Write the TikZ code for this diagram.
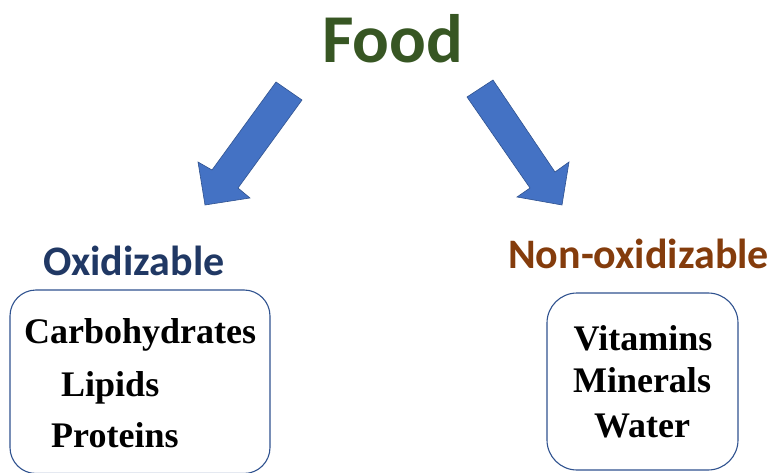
\documentclass[tikz,border=0pt]{standalone}
\usepackage{fontspec}
\setmainfont{Liberation Serif}
\newfontfamily\headfont{Carlito}
\definecolor{foodgreen}{HTML}{375623}
\definecolor{oxblue}{HTML}{203864}
\definecolor{nonoxbrown}{HTML}{843C0C}
\definecolor{arrowfill}{HTML}{4472C4}
\definecolor{arrowline}{HTML}{2F528F}
\definecolor{boxline}{HTML}{2F528F}
\tikzset{
  bigarrow/.style={fill=arrowfill, draw=arrowline, line width=0.6pt, line join=miter},
  groupbox/.style={draw=boxline, line width=1.1pt, rounded corners=26pt},
  title/.style={inner sep=0pt, anchor=base west, font=\headfont\bfseries\fontsize{68.5}{68.5}\selectfont, text=foodgreen},
  heading/.style={inner sep=0pt, anchor=base west, font=\headfont\bfseries\fontsize{42}{42}\selectfont},
  item/.style={inner sep=0pt, font=\bfseries\fontsize{36}{36}\selectfont, text=black}
}
\begin{document}
\begin{tikzpicture}[x=1pt, y=-1pt]
\useasboundingbox (0,0) rectangle (771,473);
% title
\node[title] (food) at (322,63) {Food};
% arrows
\draw[bigarrow] (276,82) -- (302,100) -- (238,188) -- (250,198) -- (205,205) -- (198,162) -- (212,170) -- cycle;
\draw[bigarrow] (467,97) -- (493,80) -- (555,172) -- (569,162) -- (562,205) -- (517,197) -- (530,188) -- cycle;
% headings
\node[heading, text=oxblue] (ox) at (43,275) {Oxidizable};
\node[heading, text=nonoxbrown] (nonox) at (508,268) {Non-oxidizable};
% boxes
\draw[groupbox] (10,290) rectangle (270,473.5);
\draw[groupbox, rounded corners=30pt] (547,293) rectangle (738,470);
% left items
\node[item, anchor=base west] (carb) at (24,343) {Carbohydrates};
\node[item, anchor=base west] (lip) at (61,396) {Lipids};
\node[item, anchor=base west] (prot) at (51,447) {Proteins};
% right items
\node[item, anchor=base] (vit) at (643,350) {Vitamins};
\node[item, anchor=base] (min) at (642,392) {Minerals};
\node[item, anchor=base] (wat) at (642,437) {Water};
\end{tikzpicture}
\end{document}
